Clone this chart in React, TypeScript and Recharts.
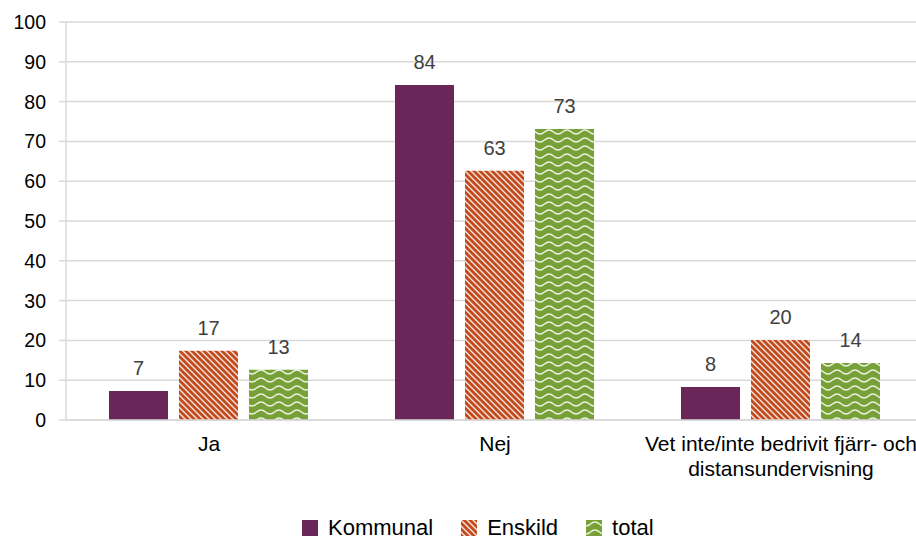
import React from 'react';
import { BarChart, Bar, XAxis, YAxis, CartesianGrid, Legend, LabelList } from 'recharts';

const categories = ['Ja', 'Nej', 'Vet inte/inte bedrivit fjärr- och\ndistansundervisning'];
const kommunal = [7.3, 84.2, 8.3];
const enskild = [17.4, 62.6, 20.1];
const total = [12.6, 73.1, 14.3];
const yTicks = [0, 10, 20, 30, 40, 50, 60, 70, 80, 90, 100];
const seriesNames = ['Kommunal', 'Enskild', 'total'];

const data = categories.map((c, i) => ({
  name: c,
  Kommunal: kommunal[i],
  Enskild: enskild[i],
  total: total[i],
}));

const PURPLE = '#6A2659';
const ORANGE = '#C24B1E';
const GREEN = '#77A136';
const FONT = '"Liberation Sans", Arial, sans-serif';

const Patterns = ({ suffix }: { suffix: string }) => (
  <defs>
    <pattern id={`diag${suffix}`} width="6" height="6" patternUnits="userSpaceOnUse">
      <rect width="6" height="6" fill={ORANGE} />
      <path
        d="M0,0 L6,6 M-1.5,4.5 L1.5,7.5 M4.5,-1.5 L7.5,1.5"
        stroke="#ffffff"
        strokeWidth="1.4"
        strokeOpacity="0.85"
      />
    </pattern>
    <pattern id={`wave${suffix}`} width="18" height="8" patternUnits="userSpaceOnUse">
      <rect width="18" height="8" fill={GREEN} />
      <path
        d="M0,6 C4.5,6 4.5,2 9,2 C13.5,2 13.5,6 18,6"
        stroke="#ffffff"
        strokeWidth="1.5"
        strokeOpacity="0.85"
        fill="none"
      />
    </pattern>
  </defs>
);

const CategoryTick = (props: any) => {
  const { x, y, payload } = props;
  const lines = String(payload.value).split('\n');
  return (
    <text
      x={x}
      y={y}
      textAnchor="middle"
      fill="#000"
      fontSize={21}
      fontFamily={FONT}
    >
      {lines.map((l, i) => (
        <tspan key={i} x={x} dy={i === 0 ? 31 : 25}>
          {l}
        </tspan>
      ))}
    </text>
  );
};

const legendFills = [PURPLE, 'url(#diagL)', 'url(#waveL)'];

const CustomLegend = () => (
  <div
    style={{
      height: 34,
      width: 940,
      position: 'relative',
      fontFamily: FONT,
      fontSize: 22,
      color: '#000',
    }}
  >
    <svg width="0" height="0" style={{ position: 'absolute' }}>
      <Patterns suffix="L" />
    </svg>
    <div style={{ display: 'flex', alignItems: 'center', paddingLeft: 302, paddingTop: 12 }}>
      {seriesNames.map((n, i) => (
        <div key={n} style={{ display: 'flex', alignItems: 'center', marginRight: 28 }}>
          <svg width="16" height="16" style={{ marginRight: 10 }}>
            <rect width="16" height="16" fill={legendFills[i]} />
          </svg>
          <span style={{ lineHeight: '22px' }}>{n}</span>
        </div>
      ))}
    </div>
  </div>
);

const labelFmt = (v: any) => Math.round(Number(v));

export default function App() {
  const labelStyle = { fill: '#404040', fontSize: 20, fontFamily: FONT };
  return (
    <div
      style={{
        position: 'absolute',
        left: 0,
        top: 0,
        width: 916,
        height: 539,
        overflow: 'hidden',
        background: '#fff',
      }}
    >
      <BarChart
        width={940}
        height={539}
        data={data}
        margin={{ top: 22, right: 16, left: 0, bottom: 0 }}
        barCategoryGap={43}
        barGap={11}
      >
        <Patterns suffix="" />
        <CartesianGrid vertical={false} stroke="#d9d9d9" strokeWidth={1.5} />
        <XAxis
          dataKey="name"
          height={85}
          axisLine={{ stroke: '#d9d9d9', strokeWidth: 1.5 }}
          tickLine={false}
          tickSize={0}
          tickMargin={0}
          interval={0}
          tick={<CategoryTick />}
        />
        <YAxis
          width={66}
          domain={[0, 100]}
          ticks={yTicks}
          interval={0}
          axisLine={{ stroke: '#d9d9d9', strokeWidth: 1.5 }}
          tickLine={{ stroke: '#d9d9d9', strokeWidth: 1.5 }}
          tickSize={7}
          tickMargin={13}
          tick={{ fill: '#000', fontSize: 19.5, fontFamily: FONT }}
        />
        <Legend verticalAlign="bottom" content={<CustomLegend />} wrapperStyle={{ left: 0, width: 940 }} />
        <Bar dataKey="Kommunal" fill={PURPLE} isAnimationActive={false}>
          <LabelList dataKey="Kommunal" position="top" offset={16} formatter={labelFmt} style={labelStyle} />
        </Bar>
        <Bar dataKey="Enskild" fill="url(#diag)" isAnimationActive={false}>
          <LabelList dataKey="Enskild" position="top" offset={16} formatter={labelFmt} style={labelStyle} />
        </Bar>
        <Bar dataKey="total" fill="url(#wave)" isAnimationActive={false}>
          <LabelList dataKey="total" position="top" offset={16} formatter={labelFmt} style={labelStyle} />
        </Bar>
      </BarChart>
    </div>
  );
}
